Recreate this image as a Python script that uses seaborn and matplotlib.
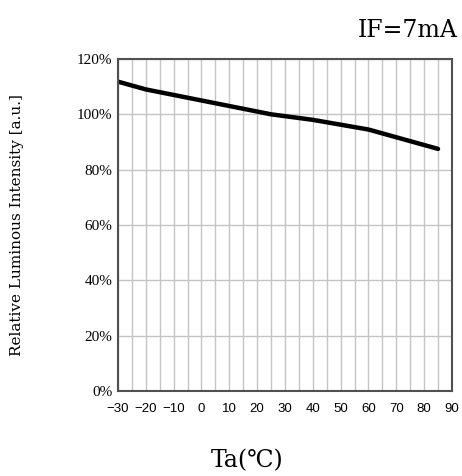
import pandas as pd
import matplotlib.pyplot as plt
import seaborn as sns

# Ta vs relative luminous intensity
temps = [-30, -20, 0, 25, 40, 60, 85]
intensity = [111.8, 109.0, 105.0, 100.0, 98.0, 94.5, 87.5]
x_ticks = [-30, -20, -10, 0, 10, 20, 30, 40, 50, 60, 70, 80, 90]
y_ticks = [0, 20, 40, 60, 80, 100, 120]

df = pd.DataFrame({"Ta": temps, "Intensity": intensity})

sns.set_style("white")
plt.rcParams["font.family"] = ["DejaVu Serif", "Noto Sans CJK JP"]
plt.rcParams["text.color"] = "black"

fig = plt.figure(figsize=(4.62, 4.76), dpi=100)
ax = fig.add_axes([0.2554, 0.1786, 0.7229, 0.6975])

sns.lineplot(x="Ta", y="Intensity", data=df, color="black", linewidth=3.2, ax=ax)

ax.set_xlim(-30, 90)
ax.set_ylim(0, 120)
ax.set_xticks(x_ticks)
ax.set_xticks(range(-30, 91, 5), minor=True)
ax.set_yticks(y_ticks)
ax.set_xticklabels([str(t).replace("-", "\u2212") for t in x_ticks],
                   family="Liberation Sans", fontsize=9.5)
ax.set_yticklabels([f"{v}%" for v in y_ticks], family="Liberation Serif", fontsize=11)
ax.tick_params(which="both", length=0, labelcolor="black")
ax.tick_params(axis="x", pad=9)
ax.tick_params(axis="y", pad=4)

ax.grid(True, which="both", axis="x", color="#c4c4c4", linewidth=1.0)
ax.grid(True, which="major", axis="y", color="#c4c4c4", linewidth=1.0)
ax.set_axisbelow(True)
for s in ax.spines.values():
    s.set_color("#505050")
    s.set_linewidth(1.5)

ax.set_xlabel("")
ax.set_ylabel("")
fig.text(0.037, 0.527, "Relative Luminous Intensity [a.u.]", rotation=90,
         ha="center", va="center", fontsize=11)
fig.text(0.535, 0.033, "Ta(℃)", ha="center", va="center", fontsize=17)
fig.text(0.99, 0.935, "IF=7mA", ha="right", va="center", fontsize=17)

fig.savefig("out.png", dpi=100)
